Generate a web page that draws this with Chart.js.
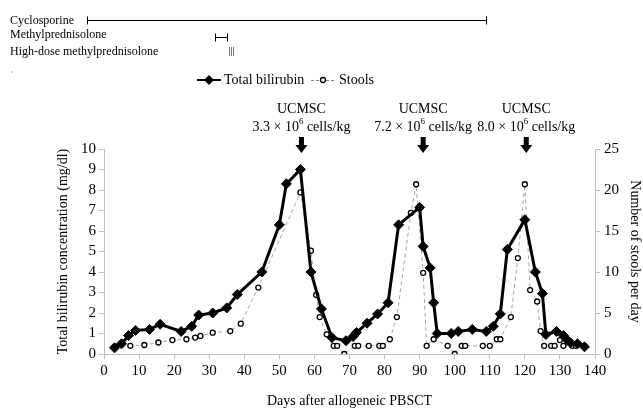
<!DOCTYPE html>
<html>
<head>
<meta charset="utf-8">
<script src="https://cdn.jsdelivr.net/npm/chart.js@4.4.1/dist/chart.umd.min.js"></script>
<style>
  html, body { margin: 0; padding: 0; background: #fff; }
</style>
</head>
<body>
<canvas id="myChart" width="643" height="412"></canvas>
<script>
// data ------------------------------------------------------------------->

// total bilirubin (mg/dl) by day after PBSCT
const biliDays = [3, 5, 7, 9, 13, 16, 22, 25, 27, 31, 35, 38, 45, 50, 52, 56, 59, 62, 65, 69,
                  71, 72, 75, 78, 81, 84, 90, 91, 93, 94, 95, 99, 101, 105, 109, 111, 113, 115, 120, 123,
                  125, 126, 129, 131, 132, 133, 135, 137];
const biliValues = [0.3, 0.5, 0.9, 1.15, 1.2, 1.45, 1.1, 1.35, 1.9, 2.0, 2.25, 2.9, 4.0, 6.3, 8.3, 9.0, 4.0, 2.2, 0.8, 0.65,
                    0.85, 1.05, 1.5, 1.95, 2.5, 6.3, 7.15, 5.25, 4.2, 2.5, 1.0, 1.0, 1.1, 1.2, 1.1, 1.35, 1.95, 5.1, 6.55, 4.0,
                    2.95, 0.95, 1.1, 0.9, 0.7, 0.55, 0.5, 0.35];

// number of stools per day
const stoolDays = [3, 7.5, 11.5, 15.5, 19.5, 23.5, 26, 27.5, 31, 36, 39, 44, 56, 59, 60.5, 61.5, 63.5, 65.5, 66.5, 68.5,
                   71.5, 72.5, 75.5, 78.5, 79.5, 81.5, 83.5, 87.5, 89, 91, 92, 94, 98, 100, 102, 103, 108, 110, 112, 113,
                   116, 118, 120, 121.5, 123.5, 124.5, 125.5, 127.5, 128.5, 130, 131, 133.5, 134.5];
const stoolValues = [0.9, 1, 1.1, 1.4, 1.7, 1.8, 2.0, 2.2, 2.6, 2.8, 3.7, 8.1, 19.7, 12.6, 7.2, 4.5, 2.4, 1, 1, 0,
                     1, 1, 1, 1, 1, 1.8, 4.5, 17.2, 20.7, 9.9, 1, 1.8, 1, 0, 1, 1, 1, 1, 1.8, 1.8,
                     4.5, 11.7, 20.7, 7.8, 6.4, 2.8, 1, 1, 1, 1.7, 1, 1, 1];

// UCMSC infusions
const ucmscDays = [56.3, 91, 120.4];
const ucmscDoses = ['3.3', '7.2', '8.0'];

// drug timeline (top panel), in days on the same x scale
const drugNames = ['Cyclosporine', 'Methylprednisolone', 'High-dose methylprednisolone'];
const cyclosporineDays = [-4.8, 108.9];
const methylpredDays = [31.6, 35.1];
const highDoseDays = [35.5, 36.1, 36.7];

// tick labels
const xTicks = [0, 10, 20, 30, 40, 50, 60, 70, 80, 90, 100, 110, 120, 130, 140];
const yLeftTicks = [0, 1, 2, 3, 4, 5, 6, 7, 8, 9, 10];
const yRightTicks = [0, 5, 10, 15, 20, 25];

const serif = '"Liberation Serif", "Times New Roman", serif';
const axisGray = '#bfbfbf';

// extra drawing: drug bars, legend, UCMSC arrows ----------------------->
const extras = {
  id: 'extras',
  afterDraw(chart) {
    const ctx = chart.ctx;
    const x = chart.scales.x;
    ctx.save();
    ctx.fillStyle = '#000';
    ctx.strokeStyle = '#000';
    ctx.font = '12px ' + serif;
    ctx.textBaseline = 'middle';
    ctx.textAlign = 'left';

    // drug names
    const rowY = [21, 35, 52];
    drugNames.forEach((n, i) => ctx.fillText(n, 10, rowY[i]));

    // bar with end caps
    function capBar(d0, d1, y) {
      const a = Math.round(x.getPixelForValue(d0)) + 0.5;
      const b = Math.round(x.getPixelForValue(d1)) + 0.5;
      ctx.lineWidth = 1;
      ctx.beginPath();
      ctx.moveTo(a, y); ctx.lineTo(b, y);
      ctx.moveTo(a, y - 4); ctx.lineTo(a, y + 4);
      ctx.moveTo(b, y - 4); ctx.lineTo(b, y + 4);
      ctx.stroke();
    }
    capBar(cyclosporineDays[0], cyclosporineDays[1], 20.5);
    capBar(methylpredDays[0], methylpredDays[1], 37.5);

    ctx.strokeStyle = '#777';
    highDoseDays.forEach(d => {
      const px = Math.round(x.getPixelForValue(d)) + 0.5;
      ctx.beginPath(); ctx.moveTo(px, 47); ctx.lineTo(px, 56); ctx.stroke();
    });

    // stray dot seen in the figure
    ctx.fillStyle = '#d0d0d0';
    ctx.fillRect(11, 71, 2, 2);

    // legend
    const ds = chart.data.datasets;
    const ly = 80;
    ctx.font = '14px ' + serif;
    ctx.fillStyle = '#000';
    ctx.strokeStyle = ds[0].borderColor;
    ctx.lineWidth = 2;
    ctx.beginPath(); ctx.moveTo(197, ly); ctx.lineTo(221, ly); ctx.stroke();
    ctx.beginPath();
    ctx.moveTo(209, ly - 5); ctx.lineTo(214, ly); ctx.lineTo(209, ly + 5); ctx.lineTo(204, ly);
    ctx.closePath(); ctx.fill();
    ctx.fillText(ds[0].label, 224, ly);

    ctx.strokeStyle = '#808080';
    ctx.lineWidth = 1;
    ctx.setLineDash([3, 2]);
    ctx.beginPath(); ctx.moveTo(311, ly + 0.5); ctx.lineTo(336, ly + 0.5); ctx.stroke();
    ctx.setLineDash([]);
    ctx.beginPath(); ctx.arc(323, ly, 2.5, 0, Math.PI * 2);
    ctx.fillStyle = '#fff'; ctx.fill();
    ctx.strokeStyle = '#000'; ctx.lineWidth = 1.3; ctx.stroke();
    ctx.fillStyle = '#000';
    ctx.fillText(ds[1].label, 339, ly);

    // UCMSC labels and arrows
    ucmscDays.forEach((d, i) => {
      const cx = x.getPixelForValue(d);
      ctx.textAlign = 'center';
      ctx.font = '14px ' + serif;
      ctx.fillText('UCMSC', cx, 109);

      const a = ucmscDoses[i] + ' \u00d7 10', s = '6', c = ' cells/kg';
      const wa = ctx.measureText(a).width, wc = ctx.measureText(c).width;
      ctx.font = '9px ' + serif;
      const ws = ctx.measureText(s).width;
      let x0 = cx - (wa + ws + wc) / 2;
      ctx.textAlign = 'left';
      ctx.font = '14px ' + serif;
      ctx.fillText(a, x0, 127);
      ctx.font = '9px ' + serif;
      ctx.fillText(s, x0 + wa, 122);
      ctx.font = '14px ' + serif;
      ctx.fillText(c, x0 + wa + ws, 127);

      ctx.fillRect(cx - 2.5, 137, 5, 8);
      ctx.beginPath();
      ctx.moveTo(cx - 6, 145); ctx.lineTo(cx + 6, 145); ctx.lineTo(cx, 153);
      ctx.closePath(); ctx.fill();
    });
    ctx.restore();
  }
};

// chart ----------------------------------------------------------------->
const tickFont = { family: serif, size: 15 };
const titleFont = { family: serif, size: 14 };

const ctx = document.getElementById('myChart');
const myChart = new Chart(ctx, {
  type: 'line',
  data: {
    datasets: [
      {
        label: 'Total bilirubin',
        data: biliDays.map((d, i) => ({ x: d, y: biliValues[i] })),
        yAxisID: 'y',
        borderColor: '#000',
        borderWidth: 3,
        pointStyle: 'rectRot',
        pointRadius: 5,
        pointBackgroundColor: '#000',
        pointBorderColor: '#000',
        pointBorderWidth: 1,
        tension: 0
      },
      {
        label: 'Stools',
        data: stoolDays.map((d, i) => ({ x: d, y: stoolValues[i] })),
        yAxisID: 'y2',
        borderColor: '#a6a6a6',
        borderWidth: 1,
        borderDash: [4, 3],
        pointStyle: 'circle',
        pointRadius: 2.5,
        pointBackgroundColor: '#fff',
        pointBorderColor: '#000',
        pointBorderWidth: 1.3,
        tension: 0
      }
    ]
  },
  options: {
    responsive: false,
    animation: false,
    layout: { padding: { top: 149, left: 0, right: 0, bottom: 0 } },
    plugins: { legend: { display: false }, tooltip: { enabled: false } },
    scales: {
      x: {
        type: 'linear',
        min: 0, max: 140,
        afterBuildTicks: s => { s.ticks = xTicks.map(v => ({ value: v })); },
        afterFit: s => { s.height = 58; },
        ticks: { color: '#000', font: tickFont, padding: 3, maxRotation: 0, autoSkip: false },
        grid: { drawOnChartArea: false, tickLength: 5, color: axisGray },
        border: { color: axisGray },
        title: { display: true, text: 'Days after allogeneic PBSCT', color: '#000', font: titleFont, padding: { top: 0, bottom: 2 } }
      },
      y: {
        position: 'left',
        min: 0, max: 10,
        afterBuildTicks: s => { s.ticks = yLeftTicks.map(v => ({ value: v })); },
        afterFit: s => { s.width = 104; },
        ticks: { color: '#000', font: tickFont, padding: 3, autoSkip: false },
        grid: { drawOnChartArea: false, tickLength: 5, color: axisGray },
        border: { color: axisGray },
        title: { display: true, text: 'Total bilirubin concentration (mg/dl)', color: '#000', font: titleFont, padding: { top: 55, bottom: 0 } }
      },
      y2: {
        position: 'right',
        min: 0, max: 25,
        afterBuildTicks: s => { s.ticks = yRightTicks.map(v => ({ value: v })); },
        afterFit: s => { s.width = 48; },
        ticks: { color: '#000', font: tickFont, padding: 4, autoSkip: false },
        grid: { drawOnChartArea: false, tickLength: 5, color: axisGray },
        border: { color: axisGray },
        title: { display: true, text: 'Number of stools per day', color: '#000', font: titleFont, padding: { top: 0, bottom: 0 } }
      }
    }
  },
  plugins: [extras]
});
</script>
</body>
</html>
